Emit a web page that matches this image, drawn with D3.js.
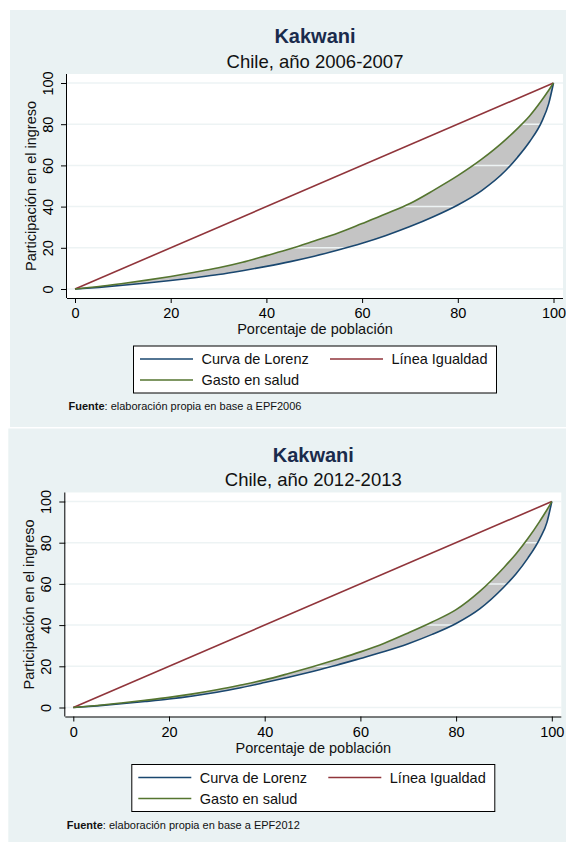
<!DOCTYPE html>
<html>
<head>
<meta charset="utf-8">
<script src="https://cdn.jsdelivr.net/npm/d3@7"></script>
<style>
  body { margin: 0; background: #fff; }
  text { font-family: "Liberation Sans", Arial, sans-serif; }
</style>
</head>
<body>
<svg id="chart" width="566" height="842"></svg>
<script>
// population share (x) shared by every curve
var popPct = [0, 5, 10, 15, 20, 25, 30, 35, 40, 45, 50, 55, 60, 65, 70, 75, 80, 85, 90, 92.5, 95, 97.5, 99, 100];

// 2006-2007
var lorenz2006 = [0, 0.8, 1.8, 2.9, 4.1, 5.5, 7.0, 8.9, 11.0, 13.3, 15.9, 18.9, 22.2, 26.0, 30.3, 35.2, 40.8, 47.8, 57.5, 64, 71.5, 81, 90, 100];
var salud2006  = [0, 1.2, 2.7, 4.3, 6.1, 8.1, 10.3, 13.0, 16.2, 19.5, 23.3, 27.2, 31.8, 36.5, 41.5, 48, 55, 63, 72.5, 78, 84, 91.5, 96.5, 100];

// 2012-2013
var lorenz2012 = [0, 0.8, 1.8, 2.9, 4.1, 5.6, 7.4, 9.6, 12.1, 14.7, 17.5, 20.5, 23.8, 27.2, 31.0, 35.5, 40.8, 48, 58.5, 64.8, 72.5, 82, 90, 100];
var salud2012  = [0, 1.0, 2.2, 3.5, 4.9, 6.6, 8.6, 10.9, 13.4, 16.5, 19.8, 23.3, 27.0, 31.2, 36.2, 41.5, 47.5, 56.5, 68, 74.5, 82, 90.5, 96, 100];

var igualdad = [0, 100];

var ticks = [0, 20, 40, 60, 80, 100];
var subtitles = ["Chile, año 2006-2007", "Chile, año 2012-2013"];
var sources = ["EPF2006", "EPF2012"];
var legendLabels = ["Curva de Lorenz", "Línea Igualdad", "Gasto en salud"];

var colors = {
  lorenz: "#1a476f",
  igualdad: "#90353b",
  salud: "#55752f",
  fill: "#c4c4c4",
  bg: "#eaf2f3"
};

var svg = d3.select("#chart");

var drawPanel = function(ox, oy, h, lorenz, salud, subtitle, source) {
  var g = svg.append("g").attr("transform", "translate(" + ox + "," + oy + ")");

  g.append("rect").attr("width", 566 - ox).attr("height", h).attr("fill", colors.bg);

  // plot region
  var plotLeft = 57, plotRight = 553, plotTop = 64, plotBottom = 288;
  g.append("rect")
    .attr("x", plotLeft).attr("y", plotTop)
    .attr("width", plotRight - plotLeft).attr("height", plotBottom - plotTop)
    .attr("fill", "#fff");

  var x = d3.scaleLinear().domain([0, 100]).range([65, 543.5]);
  var y = d3.scaleLinear().domain([0, 100]).range([279, 73]);

  // titles
  var cx = (plotLeft + plotRight) / 2;
  g.append("text").attr("x", cx).attr("y", 33).attr("text-anchor", "middle")
    .attr("font-size", 20).attr("font-weight", "bold").attr("fill", "#1a2b4c")
    .text("Kakwani");
  g.append("text").attr("x", cx).attr("y", 57.5).attr("text-anchor", "middle")
    .attr("font-size", 18.5).attr("fill", "#111")
    .text(subtitle);

  // gray band between the two curves
  var rows = popPct.map(function(p, i) { return {p: p, lo: lorenz[i], hi: salud[i]}; });
  var area = d3.area()
    .x(function(d) { return x(d.p); })
    .y0(function(d) { return y(d.lo); })
    .y1(function(d) { return y(d.hi); })
    .curve(d3.curveMonotoneX);
  g.append("path").datum(rows).attr("d", area).attr("fill", colors.fill);

  // gridlines sit over the fill
  g.selectAll(".grid").data(ticks).enter().append("line")
    .attr("x1", plotLeft).attr("x2", plotRight)
    .attr("y1", function(d) { return y(d); }).attr("y2", function(d) { return y(d); })
    .attr("stroke", "#edf3f4").attr("stroke-width", 1.5);

  var line = function(key) {
    return d3.line()
      .x(function(d) { return x(d.p); })
      .y(function(d) { return y(d[key]); })
      .curve(d3.curveMonotoneX);
  };
  g.append("path").datum(rows).attr("d", line("lo"))
    .attr("fill", "none").attr("stroke", colors.lorenz).attr("stroke-width", 1.6);
  g.append("path").datum(igualdad.map(function(v) { return {p: v, v: v}; }))
    .attr("d", line("v"))
    .attr("fill", "none").attr("stroke", colors.igualdad).attr("stroke-width", 1.6);
  g.append("path").datum(rows).attr("d", line("hi"))
    .attr("fill", "none").attr("stroke", colors.salud).attr("stroke-width", 1.6);

  // axes
  var xAxis = g.append("g").attr("transform", "translate(0," + plotBottom + ")")
    .call(d3.axisBottom(x).tickValues(ticks).tickSize(5).tickPadding(5));
  xAxis.select(".domain").attr("d", "M" + plotLeft + ",0.5H" + plotRight);
  var yAxis = g.append("g").attr("transform", "translate(" + plotLeft + ",0)")
    .call(d3.axisLeft(y).tickValues(ticks).tickSize(6).tickPadding(8));
  yAxis.select(".domain").attr("d", "M-0.5," + plotTop + "V" + plotBottom);
  [xAxis, yAxis].forEach(function(a) {
    a.selectAll("path, line").attr("stroke", "#000");
    a.selectAll("text").attr("font-size", 14.5).attr("fill", "#000")
      .attr("font-family", "Liberation Sans, Arial, sans-serif");
  });
  xAxis.selectAll("text").attr("dy", "0.71em");
  // tick groups already carry their own y offset
  yAxis.selectAll("text")
    .attr("text-anchor", "middle")
    .attr("dy", 0)
    .attr("x", 0).attr("y", 0)
    .attr("transform", "translate(-14,0) rotate(-90)");

  // axis titles
  g.append("text").attr("x", cx).attr("y", 324).attr("text-anchor", "middle")
    .attr("font-size", 14.5).attr("fill", "#111").text("Porcentaje de población");
  g.append("text").attr("transform", "translate(26," + y(50) + ") rotate(-90)")
    .attr("text-anchor", "middle").attr("font-size", 14.5).attr("fill", "#111")
    .text("Participación en el ingreso");

  // legend
  var lg = g.append("g");
  lg.append("rect").attr("x", 123.5).attr("y", 336).attr("width", 363).attr("height", 47)
    .attr("fill", "#fff").attr("stroke", "#000").attr("stroke-width", 1);
  var items = [
    {label: legendLabels[0], color: colors.lorenz, lx: 130, ly: 349},
    {label: legendLabels[1], color: colors.igualdad, lx: 320, ly: 349},
    {label: legendLabels[2], color: colors.salud, lx: 130, ly: 370}
  ];
  items.forEach(function(it) {
    lg.append("line").attr("x1", it.lx).attr("x2", it.lx + 53)
      .attr("y1", it.ly).attr("y2", it.ly)
      .attr("stroke", it.color).attr("stroke-width", 1.6);
    lg.append("text").attr("x", it.lx + 61.5).attr("y", it.ly + 5)
      .attr("font-size", 14.5).attr("fill", "#111").text(it.label);
  });

  // source note
  var note = g.append("text").attr("x", 58.5).attr("y", 400).attr("font-size", 11).attr("fill", "#111");
  note.append("tspan").attr("font-weight", "bold").text("Fuente");
  note.append("tspan").text(": elaboración propia en base a " + source);
};

drawPanel(10, 10, 417, lorenz2006, salud2006, subtitles[0], sources[0]);
drawPanel(8.3, 428.5, 414, lorenz2012, salud2012, subtitles[1], sources[1]);
</script>
</body>
</html>
